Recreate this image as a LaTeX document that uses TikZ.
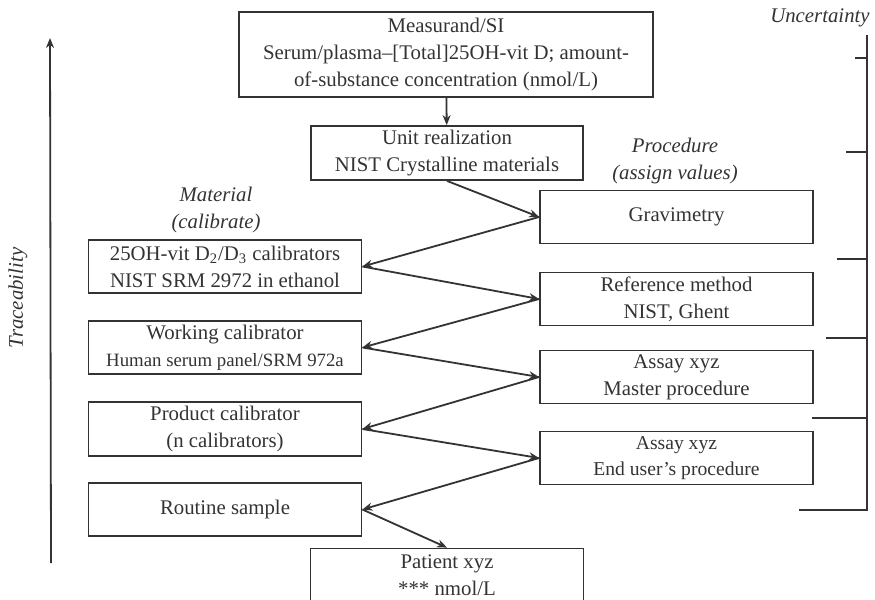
\documentclass[tikz,border=0pt]{standalone}
\usepackage{fontspec}
\setmainfont{Liberation Serif}
\usetikzlibrary{arrows.meta}

\begin{document}
\begin{tikzpicture}[x=0.5pt, y=-0.5pt, >={Stealth[length=5pt, width=4pt]}, line width=0.9pt, color=black!80,
    box/.style={draw, align=center, inner sep=2pt, minimum width=136.5pt, minimum height=26.5pt,
      font=\fontsize{10.4}{13.5}\selectfont},
    lbl/.style={align=center, font=\fontsize{10.4}{13.5}\selectfont\itshape}]
    \useasboundingbox (0,0) rectangle (875,600);

    % Measurand and unit
    \node[box, minimum width=207pt, minimum height=42.5pt] (msr) at (446,54.5)
      {Measurand/SI\\Serum/plasma–[Total]25OH-vit D; amount-\\of-substance concentration (nmol/L)};
    \node[box, minimum width=136pt, minimum height=27pt] (unit) at (447,153)
      {Unit realization\\NIST Crystalline materials};

    % Material side
    \node[lbl] (mat) at (216,210) {Material\\(calibrate)};
    \node[box] (cal) at (225,266.5) {25OH-vit D\textsubscript{2}/D\textsubscript{3} calibrators\\NIST SRM 2972 in ethanol};
    \node[box] (work) at (225,347.5) {Working calibrator\\{\fontsize{9.4}{12}\selectfont Human serum panel/SRM 972a}};
    \node[box] (prod) at (225,429) {Product calibrator\\(n calibrators)};
    \node[box] (rout) at (225,509.5) {Routine sample};
    \node[box] (pat) at (447,575) {Patient xyz\\*** nmol/L};

    % Procedure side
    \node[lbl] (proc) at (675,161) {Procedure\\(assign values)};
    \node[box] (grav) at (676.5,217) {Gravimetry};
    \node[box] (refm) at (676.5,299) {Reference method\\NIST, Ghent};
    \node[box] (amst) at (676.5,377) {Assay xyz\\Master procedure};
    \node[box, font=\fontsize{9.8}{12.8}\selectfont] (aend) at (676.5,458) {Assay xyz\\End user’s procedure};

    % Zigzag chain
    \draw[->] (msr) -- (unit);
    \draw[->] (unit.south) -- (grav.west);
    \draw[->] (grav.west) -- (cal.east);
    \draw[->] (cal.east) -- (refm.west);
    \draw[->] (refm.west) -- (work.east);
    \draw[->] (work.east) -- (amst.west);
    \draw[->] (amst.west) -- (prod.east);
    \draw[->] (prod.east) -- (aend.west);
    \draw[->] (aend.west) -- (rout.east);
    \draw[->] (rout.east) -- (pat.north);

    % Traceability
    \coordinate (trb) at (51,563);
    \coordinate (trt) at (50,38);
    \draw[->] (trb) -- (trt);
    \node[lbl, rotate=90] (trace) at (18,298) {Traceability};

    % Uncertainty bracket
    \node[lbl] (unc) at (820,18) {Uncertainty};
    \draw (867,35) -- (867,510) -- (799,510);
    \draw (855,58) -- (867,58);
    \draw (846,152) -- (867,152);
    \draw (837,259) -- (867,259);
    \draw (826,338) -- (867,338);
    \draw (812,418) -- (867,418);
\end{tikzpicture}
\end{document}
